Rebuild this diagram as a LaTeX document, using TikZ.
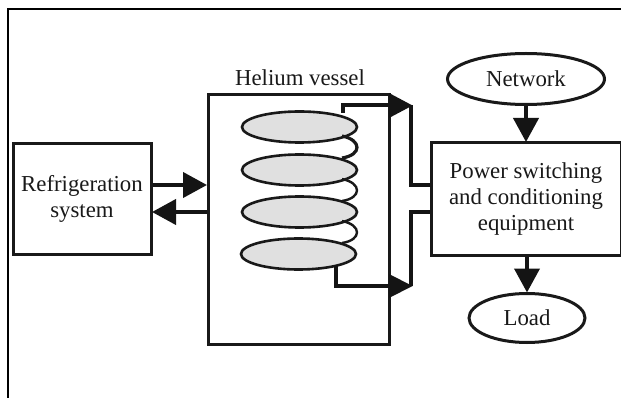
\documentclass[tikz,border=0pt]{standalone}
\usepackage{fontspec}
\setmainfont{Liberation Serif}
\usetikzlibrary{shapes.geometric,arrows.meta}
\tikzset{
  x=1pt,y=-1pt,
  lbl/.style={font=\fontsize{22.8}{26}\selectfont,align=center,text=black!90,inner sep=0},
  boxn/.style={draw=black!90,line width=3pt,minimum width=#1,inner sep=0,rectangle,align=center,font=\fontsize{22.8}{26}\selectfont,text=black!90},
  oval/.style={draw=black!90,line width=3pt,ellipse,inner sep=0,font=\fontsize{22.8}{26}\selectfont,text=black!90},
  disc/.style={draw=black!90,line width=2.6pt,ellipse,fill=black!12,minimum width=115pt,minimum height=31pt,inner sep=0},
  wire/.style={draw=black!92,line width=4pt},
  arr/.style={draw=black!92,line width=4pt,-{Triangle[length=24pt,width=25pt]},shorten >=-0.5pt},
  coil/.style={draw=black!90,line width=2.4pt},
}
\begin{document}
\begin{tikzpicture}
\useasboundingbox (0,0) rectangle (621,398);
\fill[white] (0,0) rectangle (621,398);
\coordinate (fa) at (8,398);
\coordinate (fb) at (8,9);
\coordinate (fc) at (621,9);
\draw[draw=black,line width=2.4pt] (fa) -- (fb) -- (fc);
% boxes
\node[boxn=138pt,minimum height=111pt] (ref) at (82,199) {Refrigeration\\system};
\node[boxn=181pt,minimum height=249pt] (ves) at (298.5,219.5) {};
\node[boxn=190pt,minimum height=112pt] (psw) at (526,199) {Power switching\\and conditioning\\equipment};
\node[lbl] (title) at (300,78) {Helium vessel};
\node[oval,minimum width=157pt,minimum height=51pt] (net) at (526,79) {Network};
\node[oval,minimum width=116pt,minimum height=49pt] (load) at (527,318) {Load};
% coils
\node[disc] (d1) at (299.5,127) {};
\node[disc] (d2) at (299.5,170) {};
\node[disc] (d3) at (299.5,212) {};
\node[disc] (d4) at (298.5,254) {};
\draw[coil,line width=3.2pt] (342,136) .. controls (362,140) and (362,155) .. (342,158);
\draw[coil] (342,179) .. controls (362,183) and (362,198) .. (342,201);
\draw[coil] (342,221) .. controls (362,225) and (362,240) .. (342,243);
% wires
\coordinate (wt) at (342.5,105.5);
\coordinate (wtr) at (411,105.5);
\coordinate (wtb) at (411,185);
\coordinate (wbb) at (411,212);
\coordinate (wbr) at (411,286);
\coordinate (wbl) at (336,286);
\draw[wire] (342.5,113) -- (wt) -- (389,105.5);
\draw[wire,line cap=butt] (wtr) -- (wtb) -- (wtb -| psw.west);
\draw[wire] (wbb -| psw.west) -- (wbb) -- (wbr);
\draw[wire] (336,265) -- (wbl) -- (389,286);
\fill[black!92] (389,93) -- (412.5,105.5) -- (389,118) -- cycle;
\fill[black!92] (389,274) -- (412.5,286) -- (389,298) -- cycle;
% arrows
\draw[arr] (ref.east |- 0,185) -- (ves.west |- 0,185);
\draw[arr] (ves.west |- 0,212) -- (ref.east |- 0,212);
\draw[arr] (net.south) -- (psw.north -| net.south);
\draw[arr] (psw.south -| load.north) -- (load.north);
\end{tikzpicture}
\end{document}
